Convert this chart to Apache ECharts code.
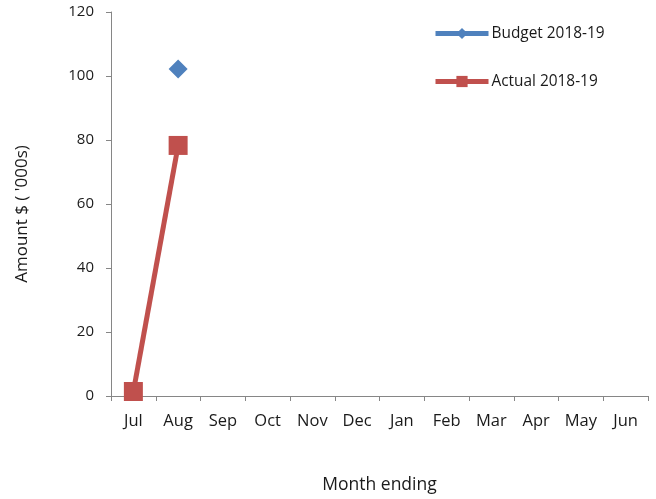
<!DOCTYPE html>
<html><head><meta charset="utf-8">
<script src="https://cdn.jsdelivr.net/npm/echarts@6/dist/echarts.min.js"></script>
<style>html,body{margin:0;padding:0;background:#fff}#c{width:656px;height:499px}</style>
</head><body><div id="c"></div>
<script>
const months = ['Jul','Aug','Sep','Oct','Nov','Dec','Jan','Feb','Mar','Apr','May','Jun'];
const budget = [null, 102.2, null, null, null, null, null, null, null, null, null, null];
const actual = [1.4, 78.3, null, null, null, null, null, null, null, null, null, null];
const seriesNames = ['Budget 2018-19', 'Actual 2018-19'];
const font = 'Open Sans';
const chart = echarts.init(document.getElementById('c'));
chart.setOption({
  animation: false,
  textStyle: {fontFamily: font},
  grid: {left: 111, right: 8, top: 12, bottom: 101, containLabel: false},
  legend: {
    orient: 'vertical', left: 428, top: 21, itemWidth: 53, itemHeight: 14, itemGap: 33,
    lineStyle: {width: 5},
    textStyle: {fontSize: 15.4, color: '#1a1a1a', fontFamily: font, padding: [0,0,0,-2]},
    data: seriesNames
  },
  xAxis: {
    type: 'category', data: months, boundaryGap: true,
    name: 'Month ending', nameLocation: 'middle', nameGap: 80,
    nameTextStyle: {fontSize: 17.5, color: '#1a1a1a', fontFamily: font},
    axisLine: {lineStyle: {color: '#868686', width: 1}},
    axisTick: {show: true, inside: false, length: 5, alignWithLabel: false, lineStyle: {color: '#868686'}},
    axisLabel: {fontSize: 16.5, color: '#1a1a1a', margin: 17, fontFamily: font, interval: 0}
  },
  yAxis: {
    type: 'value', min: 0, max: 120, interval: 20,
    name: "Amount $ ( '000s)", nameLocation: 'middle', nameGap: 80, nameRotate: 90,
    nameTextStyle: {fontSize: 17, color: '#1a1a1a', fontFamily: font, padding: [0, 20, 0, 0]},
    axisLine: {show: true, lineStyle: {color: '#868686', width: 1}},
    axisTick: {show: true, inside: false, length: 5, lineStyle: {color: '#868686'}},
    splitLine: {show: false},
    axisLabel: {fontSize: 15, color: '#1a1a1a', margin: 17, fontFamily: font}
  },
  series: [
    {name: seriesNames[0], type: 'line', data: budget, color: '#4F81BD',
     symbol: 'diamond', symbolSize: 19, showAllSymbol: true,
     lineStyle: {width: 5, color: '#4F81BD'}, itemStyle: {color: '#4F81BD'}},
    {name: seriesNames[1], type: 'line', data: actual, color: '#C0504D',
     symbol: 'rect', symbolSize: 19, showAllSymbol: true,
     lineStyle: {width: 5, color: '#C0504D'}, itemStyle: {color: '#C0504D'}}
  ]
});
</script></body></html>
